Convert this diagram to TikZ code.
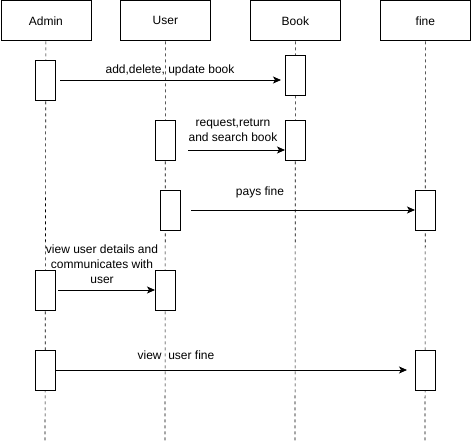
\documentclass[tikz,border=0pt]{standalone}
\usepackage{fontspec}
\setmainfont{Liberation Sans}
\usetikzlibrary{arrows.meta}
\begin{document}
\begin{tikzpicture}[x=1pt,y=-1pt,
  head/.style={draw,line width=0.8pt,minimum width=90pt,minimum height=40pt,inner sep=0pt,anchor=north west,font=\fontsize{12}{14}\selectfont},
  act/.style={draw,fill=white,line width=0.8pt,minimum width=20pt,minimum height=40pt,inner sep=0pt,anchor=north west},
  life/.style={line width=0.6pt,dash pattern=on 3pt off 3pt},
  msg/.style={line width=0.8pt,-{Stealth[length=8pt,width=7pt,inset=2pt]}},
  lbl/.style={font=\fontsize{12}{15}\selectfont,align=center,inner sep=0pt}]
\useasboundingbox (0,0) rectangle (471,441);
% headers
\node[head] (hA) at (0.5,0.5) {Admin};
\node[head] (hU) at (120,0.5) {User};
\node[head] (hB) at (250,0.5) {Book};
\node[head] (hF) at (380,0.5) {fine};
\coordinate (eA) at (45,441);
\coordinate (eU) at (165,441);
\coordinate (eB) at (295,441);
\coordinate (eF) at (425,441);
\draw[life] (hA.south) -- (eA);
\draw[life] (hU.south) -- (eU);
\draw[life] (hB.south) -- (eB);
\draw[life] (hF.south) -- (eF);
% activations
\node[act] (a1) at (35,60) {};
\node[act] (b1) at (285,55) {};
\node[act] (u1) at (155,120) {};
\node[act] (b2) at (285,120) {};
\node[act] (u2) at (160,190) {};
\node[act] (f1) at (415,190) {};
\node[act] (a2) at (35,270) {};
\node[act] (u3) at (155,270) {};
\node[act] (a3) at (35,350) {};
\node[act] (f2) at (415,350) {};
% message endpoints
\coordinate (m1s) at (60,80);  \coordinate (m1e) at (281,80);
\coordinate (m2s) at (188,150); \coordinate (m2e) at (285,150);
\coordinate (m3s) at (191,210); \coordinate (m3e) at (415,210);
\coordinate (m4s) at (58,290);  \coordinate (m4e) at (155,290);
\coordinate (m5s) at (55,370);  \coordinate (m5e) at (407,370);
\draw[msg] (m1s) -- (m1e);
\draw[msg] (m2s) -- (m2e);
\draw[msg] (m3s) -- (m3e);
\draw[msg] (m4s) -- (m4e);
\draw[msg] (m5s) -- (m5e);
% labels
\node[lbl] (l1) at (170,70) {add,delete, update book};
\node[lbl] (l2) at (233,130) {request,return\\and search book};
\node[lbl] (l3) at (260,192) {pays fine};
\node[lbl] (l4) at (102,264) {view user details and\\communicates with\\user};
\node[lbl] (l5) at (176,355) {view \ user fine};
\end{tikzpicture}
\end{document}
